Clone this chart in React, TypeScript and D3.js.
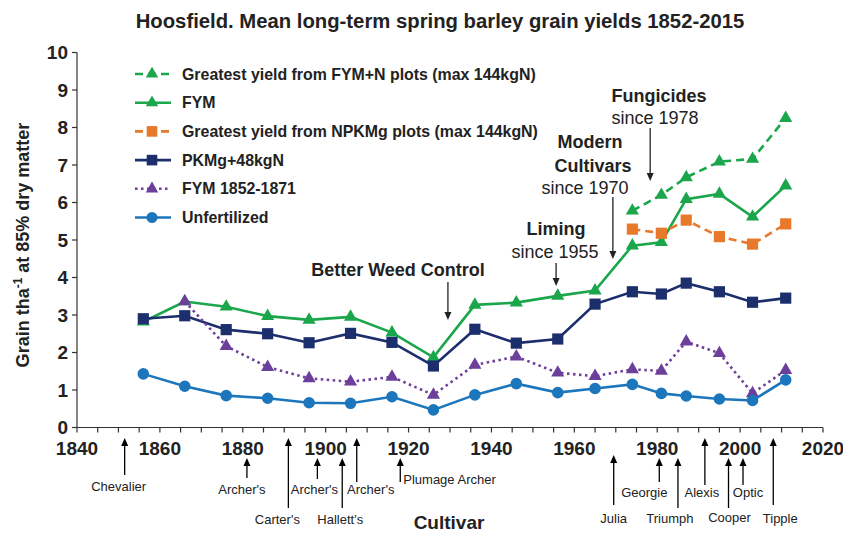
import React from "react";
import * as d3 from "d3";

// period mid-points (years) shared by all series
const periods = [1856, 1866, 1876, 1886, 1896, 1906, 1916, 1926, 1936, 1946, 1956, 1965, 1974, 1981, 1987, 1995, 2003, 2011];
const recentPeriods = [1974, 1981, 1987, 1995, 2003, 2011];

const unfertilized = [1.43, 1.1, 0.85, 0.78, 0.66, 0.645, 0.82, 0.47, 0.87, 1.17, 0.93, 1.04, 1.15, 0.91, 0.84, 0.76, 0.72, 1.27];
const pkmg48 = [2.9, 2.98, 2.61, 2.5, 2.26, 2.51, 2.27, 1.64, 2.62, 2.25, 2.36, 3.29, 3.62, 3.56, 3.85, 3.62, 3.34, 3.45];
const fym = [2.82, 3.36, 3.22, 2.97, 2.87, 2.95, 2.53, 1.87, 3.27, 3.33, 3.51, 3.65, 4.85, 4.94, 6.09, 6.23, 5.62, 6.45];
const fym1852 = [null, 3.36, 2.17, 1.61, 1.31, 1.22, 1.35, 0.87, 1.67, 1.89, 1.46, 1.37, 1.55, 1.51, 2.29, 1.98, 0.91, 1.53];
const bestFymN = [5.78, 6.2, 6.67, 7.09, 7.16, 8.25];
const bestNpkmg = [5.29, 5.18, 5.53, 5.09, 4.89, 5.43];

const yTicks = [0, 1, 2, 3, 4, 5, 6, 7, 8, 9, 10];
const xTicks = [1840, 1860, 1880, 1900, 1920, 1940, 1960, 1980, 2000, 2020];

const cultivars = ["Chevalier", "Archer's", "Carter's", "Archer's", "Hallett's", "Archer's", "Plumage Archer", "Julia", "Georgie", "Triumph", "Alexis", "Cooper", "Optic", "Tipple"];
const cultivarYears = [1851.5, 1881, 1891, 1898, 1904, 1907.5, 1918, 1969.5, 1980.5, 1985, 1991.5, 1997.2, 2000.7, 2008];
// arrow tip / tail and label placement for each cultivar (layout only)
const cultivarLayout = [
  { tip: 438, tail: 475, dx: -6, ly: 491, anchor: "middle" },
  { tip: 458, tail: 478, dx: -5, ly: 494, anchor: "middle" },
  { tip: 438, tail: 508, dx: -11, ly: 524, anchor: "middle" },
  { tip: 458, tail: 479, dx: -3, ly: 494, anchor: "middle" },
  { tip: 458, tail: 508, dx: -2, ly: 524, anchor: "middle" },
  { tip: 438, tail: 482, dx: 14, ly: 494, anchor: "middle" },
  { tip: 458, tail: 482, dx: 3, ly: 484, anchor: "start" },
  { tip: 455, tail: 505, dx: 0, ly: 523, anchor: "middle" },
  { tip: 458, tail: 482, dx: -15, ly: 497, anchor: "middle" },
  { tip: 458, tail: 508, dx: -8, ly: 523, anchor: "middle" },
  { tip: 438, tail: 485, dx: -3, ly: 497, anchor: "middle" },
  { tip: 458, tail: 508, dx: 1, ly: 522, anchor: "middle" },
  { tip: 458, tail: 485, dx: 5, ly: 497, anchor: "middle" },
  { tip: 438, tail: 505, dx: 7, ly: 523, anchor: "middle" },
];

const GREEN = "#1ba64c";
const ORANGE = "#e8782a";
const NAVY = "#1c2e6c";
const PURPLE = "#6c3f9b";
const BLUE = "#1c76bc";
const FONT = "'Liberation Sans', Arial, Helvetica, sans-serif";

type Series = {
  name: string;
  xs: number[];
  ys: (number | null)[];
  color: string;
  dash?: string;
  symbol: d3.SymbolType;
  size: number;
};

const series: Series[] = [
  { name: "Greatest yield from FYM+N plots (max 144kgN)", xs: recentPeriods, ys: bestFymN, color: GREEN, dash: "8,5", symbol: d3.symbolTriangle, size: 75 },
  { name: "FYM", xs: periods, ys: fym, color: GREEN, symbol: d3.symbolTriangle, size: 75 },
  { name: "Greatest yield from NPKMg plots (max 144kgN)", xs: recentPeriods, ys: bestNpkmg, color: ORANGE, dash: "8,5", symbol: d3.symbolSquare, size: 125 },
  { name: "PKMg+48kgN", xs: periods, ys: pkmg48, color: NAVY, symbol: d3.symbolSquare, size: 125 },
  { name: "FYM 1852-1871", xs: periods, ys: fym1852, color: PURPLE, dash: "2.5,3.5", symbol: d3.symbolTriangle, size: 75 },
  { name: "Unfertilized", xs: periods, ys: unfertilized, color: BLUE, symbol: d3.symbolCircle, size: 105 },
];

const W = 843;
const H = 534;

const UpArrow = ({ x, tip, tail }: { x: number; tip: number; tail: number }) => (
  <g>
    <line x1={x} x2={x} y1={tail} y2={tip + 6} stroke="#000" strokeWidth={1.3} />
    <path d={`M${x},${tip} L${x - 3.5},${tip + 8} L${x + 3.5},${tip + 8} Z`} fill="#000" />
  </g>
);

const DownArrow = ({ x, top, tip }: { x: number; top: number; tip: number }) => (
  <g>
    <line x1={x} x2={x} y1={top} y2={tip - 6} stroke="#222" strokeWidth={1.3} />
    <path d={`M${x},${tip} L${x - 3.5},${tip - 8} L${x + 3.5},${tip - 8} Z`} fill="#222" />
  </g>
);

export default function App() {
  const x = d3.scaleLinear().domain([1840, 2020]).range([77, 823]);
  const y = d3.scaleLinear().domain([0, 10]).range([427.5, 52.5]);
  const minor = d3.range(1840, 2021, 5);

  const line = d3
    .line<[number, number | null]>()
    .defined((d) => d[1] != null)
    .x((d) => x(d[0]))
    .y((d) => y(d[1] as number));

  return (
    <svg width={W} height={H} style={{ position: "absolute", left: 0, top: 0, background: "#fff" }} fontFamily={FONT}>
      <text x={440} y={28} textAnchor="middle" fontSize={20.3} fontWeight="bold" fill="#222">
        Hoosfield. Mean long-term spring barley grain yields 1852-2015
      </text>

      {/* y axis */}
      <line x1={77} x2={77} y1={y(10)} y2={y(0)} stroke="#333" strokeWidth={1.2} />
      {yTicks.map((t) => (
        <g key={t}>
          <line x1={72} x2={77} y1={y(t)} y2={y(t)} stroke="#333" strokeWidth={1.2} />
          <text x={68} y={y(t) + 6.5} textAnchor="end" fontSize={19} fontWeight="bold" fill="#222">
            {t}
          </text>
        </g>
      ))}
      <text transform="translate(29,245) rotate(-90)" textAnchor="middle" fontSize={18} fontWeight="bold" fill="#222">
        Grain tha<tspan fontSize={12} dy={-7}>-1</tspan>
        <tspan dy={7}> at 85% dry matter</tspan>
      </text>

      {/* x axis */}
      <line x1={x(1840)} x2={x(2020)} y1={y(0)} y2={y(0)} stroke="#333" strokeWidth={1.2} />
      {minor.map((t) => (
        <line key={t} x1={x(t)} x2={x(t)} y1={y(0)} y2={y(0) + 5} stroke="#333" strokeWidth={1.2} />
      ))}
      {xTicks.map((t) => (
        <text key={t} x={x(t)} y={455} textAnchor="middle" fontSize={19} fontWeight="bold" fill="#222">
          {t}
        </text>
      ))}

      {/* series */}
      {series.map((s) => {
        const pts = s.xs.map((v, i) => [v, s.ys[i]] as [number, number | null]);
        const sym = d3.symbol().type(s.symbol).size(s.size)();
        return (
          <g key={s.name}>
            <path d={line(pts) || ""} fill="none" stroke={s.color} strokeWidth={2.6} strokeDasharray={s.dash} />
            {pts
              .filter((p) => p[1] != null)
              .map((p, i) => (
                <path key={i} d={sym || ""} transform={`translate(${x(p[0])},${y(p[1] as number)})`} fill={s.color} />
              ))}
          </g>
        );
      })}

      {/* legend */}
      {series.map((s, i) => {
        const cy = 74 + i * 28.7;
        const sym = d3.symbol().type(s.symbol).size(s.size * 0.9)();
        return (
          <g key={s.name}>
            <line x1={135} x2={171} y1={cy} y2={cy} stroke={s.color} strokeWidth={2.6} strokeDasharray={s.dash} />
            <path d={sym || ""} transform={`translate(152,${cy})`} fill={s.color} />
            <text x={182} y={cy + 5.5} fontSize={15.9} fontWeight="bold" fill="#222">
              {s.name}
            </text>
          </g>
        );
      })}

      {/* management annotations */}
      <text x={398} y={276} textAnchor="middle" fontSize={18} fontWeight="bold" fill="#222">
        Better Weed Control
      </text>
      <DownArrow x={x(1929.5)} top={282} tip={320} />

      <text x={556} y={235} textAnchor="middle" fontSize={18} fontWeight="bold" fill="#222">
        Liming
      </text>
      <text x={555} y={258} textAnchor="middle" fontSize={18} fill="#222">
        since 1955
      </text>
      <DownArrow x={x(1955.6)} top={263} tip={286} />

      <text x={590} y={148} textAnchor="middle" fontSize={18} fontWeight="bold" fill="#222">
        Modern
      </text>
      <text x={593} y={171.5} textAnchor="middle" fontSize={18} fontWeight="bold" fill="#222">
        Cultivars
      </text>
      <text x={585} y={194} textAnchor="middle" fontSize={18} fill="#222">
        since 1970
      </text>
      <DownArrow x={x(1969.3)} top={197} tip={259} />

      <text x={659} y={101.5} textAnchor="middle" fontSize={18} fontWeight="bold" fill="#222">
        Fungicides
      </text>
      <text x={655} y={124} textAnchor="middle" fontSize={18} fill="#222">
        since 1978
      </text>
      <DownArrow x={x(1978.3)} top={128} tip={181} />

      {/* cultivar arrows */}
      {cultivars.map((c, i) => {
        const L = cultivarLayout[i];
        const cx = x(cultivarYears[i]);
        return (
          <g key={i}>
            <UpArrow x={cx} tip={L.tip} tail={L.tail} />
            <text x={cx + L.dx} y={L.ly} textAnchor={L.anchor as any} fontSize={13} fill="#222">
              {c}
            </text>
          </g>
        );
      })}
      <text x={449} y={529} textAnchor="middle" fontSize={19} fontWeight="bold" fill="#222">
        Cultivar
      </text>
    </svg>
  );
}
